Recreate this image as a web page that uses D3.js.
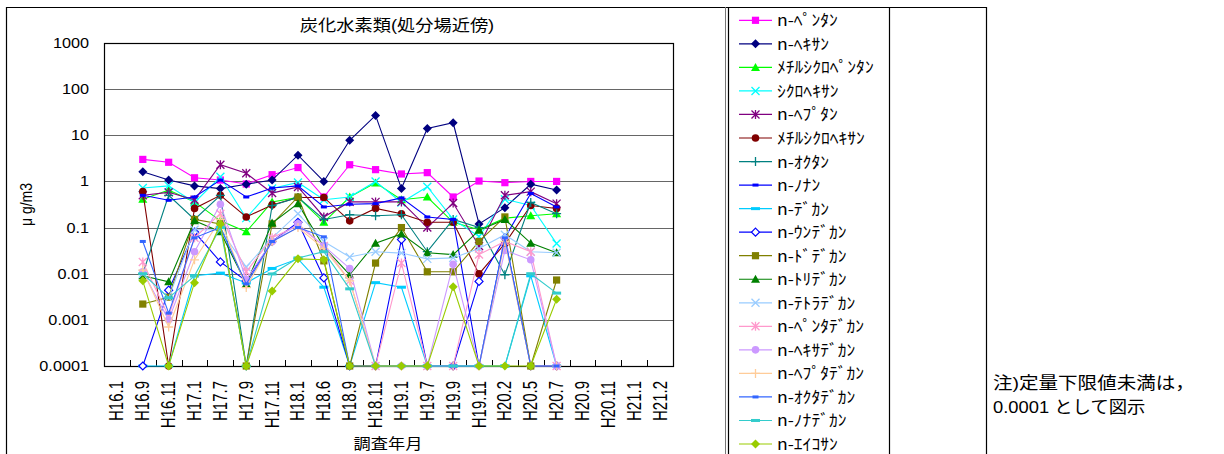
<!DOCTYPE html>
<html><head><meta charset="utf-8">
<script src="https://cdn.jsdelivr.net/npm/d3@7"></script>
<style>
body{margin:0;background:#fff;}
svg{display:block;font-family:"Liberation Sans","Noto Sans CJK JP",sans-serif;}
</style></head><body>
<svg id="c" width="1224" height="454"></svg>
<script>
const categories = ["H16.1","H16.9","H16.11","H17.1","H17.7","H17.9","H17.11","H18.1","H18.6","H18.9","H18.11","H19.1","H19.7","H19.9","H19.11","H20.2","H20.5","H20.7","H20.9","H20.11","H21.1","H21.2"];
const yTicks = [0.0001,0.001,0.01,0.1,1,10,100,1000];
const yTickLabels = ["0.0001","0.001","0.01","0.1","1","10","100","1000"];
const seriesNames = ["n-ﾍﾟﾝﾀﾝ","n-ﾍｷｻﾝ","ﾒﾁﾙｼｸﾛﾍﾟﾝﾀﾝ","ｼｸﾛﾍｷｻﾝ","n-ﾍﾌﾟﾀﾝ","ﾒﾁﾙｼｸﾛﾍｷｻﾝ","n-ｵｸﾀﾝ","n-ﾉﾅﾝ","n-ﾃﾞｶﾝ","n-ｳﾝﾃﾞｶﾝ","n-ﾄﾞﾃﾞｶﾝ","n-ﾄﾘﾃﾞｶﾝ","n-ﾃﾄﾗﾃﾞｶﾝ","n-ﾍﾟﾝﾀﾃﾞｶﾝ","n-ﾍｷｻﾃﾞｶﾝ","n-ﾍﾌﾟﾀﾃﾞｶﾝ","n-ｵｸﾀﾃﾞｶﾝ","n-ﾉﾅﾃﾞｶﾝ","n-ｴｲｺｻﾝ"];
// values for H16.9 ... H20.7 (H16.1 and H20.9-H21.2 have no data)
const nPentane   = [3.0,2.6,1.2,1.07,0.88,1.4,2.0,0.46,2.3,1.8,1.45,1.55,0.46,1.02,0.94,1.0,1.0];
const nHexane    = [1.62,1.07,0.8,0.7,0.87,1.07,3.7,1.0,7.8,27,0.7,14,18.7,0.12,0.27,0.87,0.65];
const mCyPentane = [0.41,0.65,0.36,0.14,0.081,0.36,0.45,0.13,0.46,0.93,0.4,0.46,0.13,0.09,0.16,0.18,0.2];
const cyHexane   = [0.72,0.8,0.35,1.26,0.16,0.7,0.95,0.4,0.46,1.0,0.35,0.77,0.15,0.064,0.41,0.3,0.045];
const nHeptane   = [0.5,0.58,0.4,2.3,1.5,0.56,0.76,0.17,0.36,0.36,0.36,0.1,0.34,0.04,0.5,0.6,0.33];
const mCyHexane  = [0.6,0.0001,0.26,0.5,0.17,0.31,0.45,0.45,0.14,0.26,0.2,0.13,0.13,0.0099,0.045,0.3,0.26];
const nOctane    = [0.01,0.5,0.15,0.5,0.0001,0.3,0.45,0.15,0.19,0.18,0.19,0.03,0.15,0.1,0.0095,0.35,0.2];
const nNonane    = [0.5,0.39,0.46,1.07,0.46,0.72,0.8,0.28,0.32,0.33,0.44,0.17,0.15,0.0001,0.06,0.55,0.28];
const nDecane    = [0.0001,0.0001,0.009,0.0103,0.0063,0.013,0.021,0.0051,0.0001,0.0064,0.0051,0.0001,0.0001,0.0001,0.0001,0.009,0.0001];
const nUndecane  = [0.0001,0.0044,0.08,0.018,0.007,0.05,0.13,0.0081,0.0001,0.0001,0.055,0.0001,0.0001,0.0068,0.06,0.0001,0.0001];
const nDodecane  = [0.0022,0.0031,0.15,0.12,0.0001,0.12,0.46,0.019,0.0001,0.017,0.1,0.011,0.011,0.05,0.17,0.0001,0.0073];
const nTridecane = [0.009,0.0067,0.14,0.081,0.006,0.125,0.33,0.038,0.0095,0.046,0.073,0.0285,0.026,0.087,0.15,0.046,0.0285];
const nTetradecane=[0.01,0.003,0.09,0.09,0.014,0.06,0.2,0.05,0.023,0.03,0.028,0.021,0.022,0.035,0.07,0.03,0.0285];
const nPentadecane=[0.018,0.0012,0.06,0.2,0.011,0.06,0.11,0.04,0.007,0.0001,0.017,0.0001,0.0001,0.026,0.05,0.03,0.0001];
const nHexadecane= [0.011,0.001,0.03,0.32,0.0075,0.05,0.12,0.04,0.013,0.0001,0.0001,0.0001,0.016,0.0001,0.032,0.02,0.0001];
const nHeptadecane=[0.012,0.0007,0.02,0.15,0.005,0.05,0.1,0.035,0.007,0.0001,0.0001,0.0001,0.0001,0.0001,0.05,0.0001,0.0001];
const nOctadecane= [0.05,0.0014,0.06,0.1,0.006,0.05,0.1,0.063,0.0001,0.0001,0.0001,0.0001,0.0001,0.0001,0.06,0.0001,0.0001];
const nNonadecane= [0.01,0.003,0.009,0.1,0.0001,0.0099,0.022,0.03,0.0047,0.0001,0.0001,0.0001,0.0001,0.0001,0.0001,0.01,0.0038];
const nEicosane  = [0.007,0.0001,0.0064,0.12,0.0001,0.0042,0.021,0.02,0.0001,0.0001,0.0001,0.0001,0.0052,0.0001,0.0001,0.0001,0.0028];
const dataCats = categories.slice(1,18);

const seriesValues = [nPentane,nHexane,mCyPentane,cyHexane,nHeptane,mCyHexane,nOctane,nNonane,nDecane,nUndecane,nDodecane,nTridecane,nTetradecane,nPentadecane,nHexadecane,nHeptadecane,nOctadecane,nNonadecane,nEicosane];
const colors = ["#FF00FF","#000080","#00FF00","#00FFFF","#800080","#800000","#008080","#0000FF","#00CCFF","#0000FF","#808000","#008000","#99CCFF","#FF99CC","#CC99FF","#FFCC99","#3366FF","#33CCCC","#99CC00"];
const markers = ["square","diamond","triangle","x","star","circle","plus","dashS","dashL","odiamond","square","triangle","x","star","circle","plus","dashS","dashL","diamond"];

const svg = d3.select("#c");
const L=104,R=673,T=43,B=366;
const x = d3.scaleBand().domain(categories).range([L,R]);
const y = d3.scaleLog().domain([0.0001,1000]).range([B,T]);

function txt(g, tx, ty, str, size, anchor, sx, rot, fam){
  const t = g.append("text")
    .attr("transform",`translate(${tx},${ty}) scale(${sx},1)` + (rot?` rotate(${rot})`:""))
    .attr("text-anchor",anchor).attr("font-size",size).attr("fill","#000").text(str);
  if(fam) t.attr("font-family",fam);
  return t;
}

// frames
svg.append("path").attr("d","M6.5,460V7.5H986.5").attr("fill","none").attr("stroke","#000").attr("stroke-width",1.2);
svg.append("line").attr("x1",725.5).attr("x2",725.5).attr("y1",7).attr("y2",460).attr("stroke","#777");
[728.5,889.5,986.5].forEach(v=>svg.append("line").attr("x1",v).attr("x2",v).attr("y1",7).attr("y2",460).attr("stroke","#000").attr("stroke-width",1.2));

// gridlines
svg.append("g").selectAll("line").data(yTicks).join("line")
  .attr("x1",L).attr("x2",R).attr("y1",d=>Math.round(y(d))+0.5).attr("y2",d=>Math.round(y(d))+0.5)
  .attr("stroke","#666").attr("stroke-width",1.2);
svg.append("rect").attr("x",L+0.5).attr("y",T+0.5).attr("width",R-L).attr("height",B-T)
  .attr("fill","none").attr("stroke","#000").attr("stroke-width",1.2);

// y axis labels
const gy = svg.append("g");
yTicks.forEach((d,i)=>txt(gy,89,y(d)+5,yTickLabels[i],14,"end",1.16));

// x ticks (inside, at band boundaries)
const bounds = categories.map(c=>x(c)).concat([R]);
svg.append("g").selectAll("line").data(bounds.slice(1,-1)).join("line")
  .attr("x1",d=>Math.round(d)+0.5).attr("x2",d=>Math.round(d)+0.5).attr("y1",B).attr("y2",B-6)
  .attr("stroke","#000");
const gx = svg.append("g");
categories.forEach(c=>txt(gx,x(c)+x.bandwidth()/2+6.5,381,c,15,"end",1.3,-90));

// titles
txt(svg,397,31,"炭化水素類(処分場近傍)",16,"middle",1.14);
txt(svg,388,449,"調査年月",15,"middle",1.15);
txt(svg,32,(T+B)/2,"μ g/m3",14,"middle",1.2,-90);

function drawMarker(g, type, color, cx, cy){
  const s=3.6;
  if(type==="square") g.append("rect").attr("x",cx-s).attr("y",cy-s).attr("width",2*s).attr("height",2*s).attr("fill",color);
  else if(type==="diamond") g.append("path").attr("d",`M${cx},${cy-4.5}L${cx+4.5},${cy}L${cx},${cy+4.5}L${cx-4.5},${cy}Z`).attr("fill",color);
  else if(type==="odiamond") g.append("path").attr("d",`M${cx},${cy-4}L${cx+4},${cy}L${cx},${cy+4}L${cx-4},${cy}Z`).attr("fill","#fff").attr("stroke",color).attr("stroke-width",1.2);
  else if(type==="triangle") g.append("path").attr("d",`M${cx},${cy-4.5}L${cx+4.5},${cy+3.5}L${cx-4.5},${cy+3.5}Z`).attr("fill",color);
  else if(type==="circle") g.append("circle").attr("cx",cx).attr("cy",cy).attr("r",3.8).attr("fill",color);
  else if(type==="x") g.append("path").attr("d",`M${cx-4},${cy-4}L${cx+4},${cy+4}M${cx-4},${cy+4}L${cx+4},${cy-4}`).attr("stroke",color).attr("stroke-width",1.3);
  else if(type==="star") g.append("path").attr("d",`M${cx-4},${cy-4}L${cx+4},${cy+4}M${cx-4},${cy+4}L${cx+4},${cy-4}M${cx},${cy-4.5}V${cy+4.5}`).attr("stroke",color).attr("stroke-width",1.3);
  else if(type==="plus") g.append("path").attr("d",`M${cx-4.5},${cy}H${cx+4.5}M${cx},${cy-4.5}V${cy+4.5}`).attr("stroke",color).attr("stroke-width",1.3);
  else if(type==="dashS") g.append("rect").attr("x",cx-3).attr("y",cy-1.5).attr("width",6).attr("height",3).attr("fill",color);
  else if(type==="dashL") g.append("rect").attr("x",cx-4.5).attr("y",cy-1.5).attr("width",9).attr("height",3).attr("fill",color);
}

const line = d3.line().x(d=>x(d.c)+x.bandwidth()/2).y(d=>y(d.v));
seriesValues.forEach((vals,i)=>{
  const pts = vals.map((v,j)=>({c:dataCats[j],v}));
  const g = svg.append("g");
  g.append("path").datum(pts).attr("d",line).attr("fill","none").attr("stroke",colors[i]).attr("stroke-width",1.1);
  pts.forEach(p=>drawMarker(g,markers[i],colors[i],x(p.c)+x.bandwidth()/2,y(p.v)));
});

// legend
const leg = svg.append("g");
seriesNames.forEach((n,i)=>{
  const cy = 20.3 + i*23.54;
  leg.append("line").attr("x1",739).attr("x2",772).attr("y1",cy).attr("y2",cy).attr("stroke",colors[i]).attr("stroke-width",1.2);
  drawMarker(leg,markers[i],colors[i],755.5,cy);
  txt(leg,777,cy+6,n,16,"start",1.1,0,"'Noto Sans CJK JP',sans-serif");
});

// note
txt(svg,993,389,"注)定量下限値未満は，",17,"start",1.15);
txt(svg,993,413,"0.0001 として図示",17,"start",1.08);
</script>
</body></html>
